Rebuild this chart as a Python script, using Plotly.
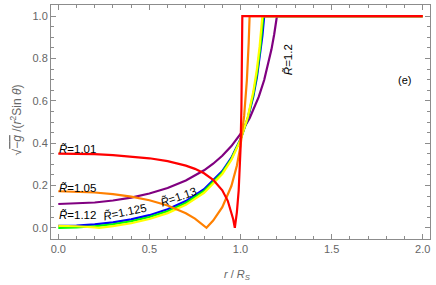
import plotly.graph_objects as go

# r / R_S sample points and sqrt(-g)/(r^2 sin θ) values for each R̃ = R/R_S
x_101 = [0, 0.1, 0.2, 0.3, 0.4, 0.5, 0.6, 0.7, 0.75, 0.8, 0.85, 0.9, 0.93, 0.95, 0.96, 0.9688, 0.98, 0.99, 1.0, 1.005, 1.008, 1.01, 2.0]
y_101 = [0.3507, 0.3500, 0.3478, 0.3438, 0.3376, 0.3285, 0.3150, 0.2939, 0.2785, 0.2575, 0.2269, 0.1772, 0.1275, 0.0762, 0.0405, 0.0, 0.0730, 0.1762, 0.3703, 0.5639, 0.7697, 1.0, 1.0]

x_105 = [0, 0.1, 0.2, 0.3, 0.4, 0.5, 0.6, 0.7, 0.75, 0.8133, 0.85, 0.9, 0.95, 0.98, 1.0, 1.02, 1.035, 1.045, 1.05, 2.0]
y_105 = [0.1727, 0.1713, 0.1669, 0.1592, 0.1474, 0.1303, 0.1057, 0.0690, 0.0435, 0.0, 0.0339, 0.0973, 0.1973, 0.2930, 0.3871, 0.5286, 0.6981, 0.8750, 1.0, 1.0]

x_112 = [0, 0.1, 0.2, 0.224, 0.3, 0.4, 0.5, 0.6, 0.7, 0.8, 0.9, 0.95, 1.0, 1.04, 1.07, 1.09, 1.105, 1.12, 2.0]
y_112 = [0.0090, 0.0073, 0.0019, 0.0, 0.0075, 0.0216, 0.0415, 0.0693, 0.1084, 0.1654, 0.2545, 0.3210, 0.4146, 0.5235, 0.6413, 0.7498, 0.8571, 1.0, 1.0]

x_1125 = [0, 0.1, 0.2, 0.3, 0.4, 0.5, 0.6, 0.7, 0.8, 0.9, 0.95, 1.0, 1.04, 1.07, 1.09, 1.11, 1.125, 2.0]
y_1125 = [0.0, 0.0018, 0.0072, 0.0166, 0.0307, 0.0507, 0.0784, 0.1174, 0.1739, 0.2615, 0.3263, 0.4164, 0.5199, 0.6297, 0.7289, 0.8626, 1.0, 1.0]

x_113 = [0, 0.1, 0.2, 0.3, 0.4, 0.5, 0.6, 0.7, 0.8, 0.9, 0.95, 1.0, 1.04, 1.07, 1.09, 1.11, 1.12, 1.13, 2.0]
y_113 = [0.0088, 0.0105, 0.0160, 0.0254, 0.0396, 0.0596, 0.0873, 0.1261, 0.1820, 0.2682, 0.3313, 0.4183, 0.5167, 0.6195, 0.7107, 0.8311, 0.9076, 1.0, 1.0]

x_12 = [0, 0.1, 0.2, 0.3, 0.4, 0.5, 0.6, 0.7, 0.8, 0.85, 0.9, 0.95, 1.0, 1.05, 1.1, 1.13, 1.15, 1.17, 1.185, 1.2, 2.0]
y_12 = [0.1124, 0.1142, 0.1196, 0.1290, 0.1429, 0.1621, 0.1882, 0.2235, 0.2717, 0.3028, 0.3402, 0.3860, 0.4435, 0.5178, 0.6185, 0.6985, 0.7641, 0.8433, 0.9147, 1.0, 1.0]

label_texts = ["1.01", "1.05", "1.12", "1.125", "1.13", "1.2"]
label_x = [0.0, 0.0, 0.0, 0.364, 0.657, 1.265]
label_y = [0.372, 0.190, 0.060, 0.075, 0.145, 0.796]
label_angle = [0, 0, 0, -12, -19, -90]
label_anchor = ["left", "left", "left", "center", "center", "center"]

x_ticks = [0, 0.5, 1.0, 1.5, 2.0]
x_ticktext = ["0.0", "0.5", "1.0", "1.5", "2.0"]
y_ticks = [0, 0.2, 0.4, 0.6, 0.8, 1.0]
y_ticktext = ["0.0", "0.2", "0.4", "0.6", "0.8", "1.0"]

series = [
    (x_12, y_12, "#800080"),
    (x_113, y_113, "#0000ff"),
    (x_1125, y_1125, "#00ff00"),
    (x_112, y_112, "#ffff00"),
    (x_105, y_105, "#ff8000"),
    (x_101, y_101, "#ff0000"),
]

FONT = "Liberation Sans"
AXC = "#8c8c8c"

fig = go.Figure()
for xs, ys, c in series:
    fig.add_trace(go.Scatter(x=xs, y=ys, mode="lines",
                             line=dict(color=c, width=2.2), showlegend=False,
                             hoverinfo="skip"))

for t, lx, ly, ang, anc in zip(label_texts, label_x, label_y, label_angle, label_anchor):
    fig.add_annotation(x=lx, y=ly, xref="x", yref="y", text="<i>R̃</i>=" + t,
                       showarrow=False, textangle=ang, xanchor=anc, yanchor="middle",
                       borderpad=0,
                       font=dict(family=FONT, size=11.5, color="black"))

fig.add_annotation(x=1.9, y=0.70, xref="x", yref="y", text="(e)", showarrow=False,
                   font=dict(family=FONT, size=11, color="black"))

# axis titles
fig.add_annotation(xref="paper", yref="paper", x=0.493, y=-0.154, xanchor="center", yanchor="middle",
                   text="<i>r</i> / <i>R</i><sub><i>S</i></sub>", showarrow=False,
                   font=dict(family=FONT, size=11, color="#666666"))
fig.add_annotation(xref="paper", yref="paper", x=-0.093, y=0.51, xanchor="center", yanchor="middle",
                   textangle=-90, showarrow=False,
                   text="√<span style='text-decoration:overline'>−<i>g</i></span> /(<i>r</i><sup>2</sup>Sin <i>θ</i>)",
                   font=dict(family=FONT, size=12, color="#666666"))

axis_common = dict(
    showgrid=False, zeroline=False, showline=True, linecolor=AXC, linewidth=1,
    mirror="ticks", ticks="inside", ticklen=5, tickcolor=AXC, tickwidth=1,
    tickfont=dict(family=FONT, size=11, color="#666666"), automargin=False,
)

fig.update_xaxes(range=[-0.04, 2.04], tickvals=x_ticks, ticktext=x_ticktext,
                 minor=dict(dtick=0.1, tick0=0, ticks="inside", ticklen=3, tickcolor=AXC),
                 **axis_common)
fig.update_yaxes(range=[-0.053, 1.053], tickvals=y_ticks, ticktext=y_ticktext,
                 minor=dict(dtick=0.05, tick0=0, ticks="inside", ticklen=3, tickcolor=AXC),
                 **axis_common)

fig.update_layout(width=436, height=285, margin=dict(l=51, r=6, t=5, b=46),
                  plot_bgcolor="white", paper_bgcolor="white")

fig.write_html("out.html", config={"displayModeBar": False},
               post_script="document.body.style.margin='0px';")
